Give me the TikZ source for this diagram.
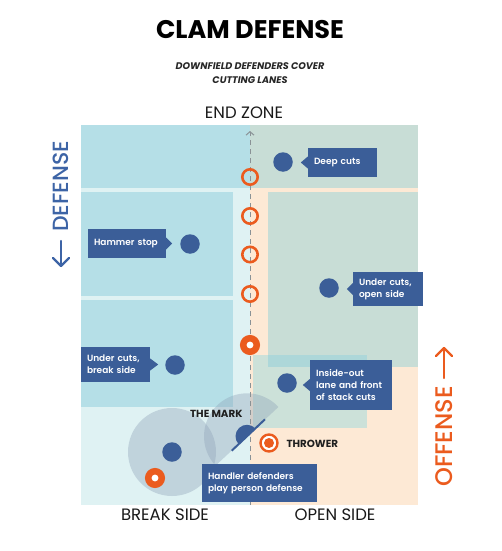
\documentclass[tikz,border=0pt]{standalone}
\usepackage{fontspec}
\setmainfont{Poppins}
\newfontfamily\semib{Poppins SemiBold}
\newfontfamily\medf{Poppins Medium}
\usetikzlibrary{arrows.meta}
\definecolor{cyanA}{HTML}{B5DFE7}
\definecolor{pcyan}{HTML}{DFF2F3}
\definecolor{greenA}{HTML}{C8DDD6}
\definecolor{greenB}{HTML}{CCE1D9}
\definecolor{overl}{HTML}{ADD7D9}
\definecolor{porange}{HTML}{FDE9D5}
\definecolor{navy}{HTML}{3B5E98}
\definecolor{orng}{HTML}{EB5B1E}
\definecolor{defblue}{HTML}{3D64A6}
\definecolor{axisgray}{HTML}{8A9296}
\definecolor{zoneshade}{HTML}{8FA3B8}
\tikzset{
  lbl/.style={fill=navy, text=white, font=\semib\fontsize{9}{12}\selectfont, align=left, inner xsep=6pt, inner ysep=0pt},
  dot/.style={circle, fill=navy, minimum size=19.5pt, inner sep=0pt},
  ring/.style={circle, draw=orng, line width=2.6pt, minimum size=15.4pt, inner sep=0pt},
  thickring/.style={circle, draw=orng, line width=6.5pt, minimum size=13.5pt, inner sep=0pt, fill=white},
  zone/.style={fill=zoneshade, fill opacity=0.38},
  edgelabel/.style={font=\fontsize{16.5}{18}\selectfont, text=black!90},
  tag/.style={font=\bfseries\fontsize{10.3}{12}\selectfont, text=black!88},
  sidearrow/.style={line width=2.3pt, line cap=round, line join=round}
}
\begin{document}
\begin{tikzpicture}[x=1pt,y=-1pt]
\useasboundingbox (0,0) rectangle (501,551);
% field backgrounds
\fill[pcyan] (81,125) rectangle (250,505);
\fill[porange] (250,125) rectangle (418,505);
\fill[cyanA] (81,125) rectangle (250,187.5);
\fill[greenA] (250,125) rectangle (418,187.5);
\fill[cyanA] (81,191.5) rectangle (233,295.5);
\fill[cyanA] (81,300) rectangle (233,407);
\fill[greenA] (268,191.5) rectangle (418,367);
\fill[greenB] (253,355) rectangle (367,428);
\fill[overl] (268,355) rectangle (367,367);
% coverage zones
\coordinate (mc) at (247,436.3);
\fill[zone] (172,452) circle[radius=44];
\fill[zone] (mc) -- ++(-43:43) arc[start angle=-43, end angle=-223, radius=43] -- cycle;
% axis
\coordinate (axb) at (250,505);
\coordinate (axt) at (250,131);
\draw[axisgray, line width=1pt, dash pattern=on 5pt off 4pt, -{Straight Barb[length=3.5pt, width=8pt, line width=1pt]}] (axb) -- (axt);
% cutters (offense)
\node[ring] (o1) at (250,177) {};
\node[ring] (o2) at (250,216) {};
\node[ring] (o3) at (250,254.5) {};
\node[ring] (o4) at (250,294) {};
\node[thickring] (o5) at (250,345) {};
\node[thickring] (o6) at (155,478) {};
% thrower
\node[circle, draw=orng, line width=2.4pt, minimum size=17pt, inner sep=0pt, fill=white] (thr) at (269,443) {};
\node[circle, fill=orng, minimum size=10pt, inner sep=0pt] (thrc) at (thr) {};
\node[tag, anchor=west] (thrl) at (283,443.5) {THROWER};
% the mark
\coordinate (ml1) at (231.7,450.7);
\coordinate (ml2) at (265,419.3);
\fill[navy] (mc) -- ++(-43:11.5) arc[start angle=-43, end angle=-223, radius=11.5] -- cycle;
\draw[navy, line width=2pt] (ml1) -- (ml2);
\node[tag, anchor=east] (markl) at (246,413.5) {THE MARK};
% defenders
\node[dot] (dd) at (283,162) {};
\node[dot] (dh) at (190,244) {};
\node[dot] (dou) at (329,288) {};
\node[dot] (dbu) at (175,365) {};
\node[dot] (dio) at (287,383) {};
\node[dot] (dhd) at (172,452) {};
% labels
\node[lbl, text width=57pt, minimum height=29pt] (ldeep) at (342.5,162.5) {Deep cuts};
\fill[navy] (ldeep.west) ++(0,-6) -- ++(-7,6) -- ++(7,6) -- cycle;
\node[lbl, text width=66pt, minimum height=29pt] (lham) at (127,243.5) {Hammer~stop};
\fill[navy] (lham.east) ++(0,-6) -- ++(6,6) -- ++(-6,6) -- cycle;
\node[lbl, text width=58pt, minimum height=34pt] (lopen) at (388,289) {Under cuts,\\open side};
\fill[navy] (lopen.west) ++(0,-6) -- ++(-6,6) -- ++(6,6) -- cycle;
\node[lbl, text width=57pt, minimum height=35pt] (lbreak) at (115.5,364.5) {Under cuts,\\break side};
\fill[navy] (lbreak.east) ++(0,-6) -- ++(8,6) -- ++(-8,6) -- cycle;
\node[lbl, text width=70pt, minimum height=50pt] (lin) at (351,385) {Inside-out\\lane~and~front\\of stack cuts};
\fill[navy] (lin.west) ++(0,-6) -- ++(-7,6) -- ++(7,6) -- cycle;
\node[lbl, text width=103pt, minimum height=38pt] (lhand) at (259.5,483) {Handler defenders\\play person defense};
% titles
\node[font=\bfseries\fontsize{25.5}{28}\selectfont] (title) at (250,30) {CLAM DEFENSE};
\node[font=\bfseries\itshape\fontsize{9.6}{14}\selectfont, align=center, text=black!85] (sub) at (250,73) {DOWNFIELD DEFENDERS COVER\\CUTTING LANES};
\node[edgelabel] (ez) at (244,113) {END ZONE};
\node[edgelabel] (bs) at (165,515) {BREAK SIDE};
\node[edgelabel] (os) at (335,515) {OPEN SIDE};
% side labels
\node[rotate=90, text=defblue, font=\medf\fontsize{22}{24}\selectfont] (def) at (61,186.5) {DEFENSE};
\coordinate (da1) at (61,241);
\coordinate (da2) at (61,266);
\draw[defblue, sidearrow] (da1) -- (da2);
\draw[defblue, sidearrow] (53,258) -- (da2) -- (69,258);
\node[rotate=90, text=orng, font=\medf\fontsize{24}{26}\selectfont] (off) at (444,436.5) {OFFENSE};
\coordinate (oa1) at (444,378);
\coordinate (oa2) at (444,348);
\draw[orng, sidearrow] (oa1) -- (oa2);
\draw[orng, sidearrow] (436,356) -- (oa2) -- (452,356);
\end{tikzpicture}
\end{document}
